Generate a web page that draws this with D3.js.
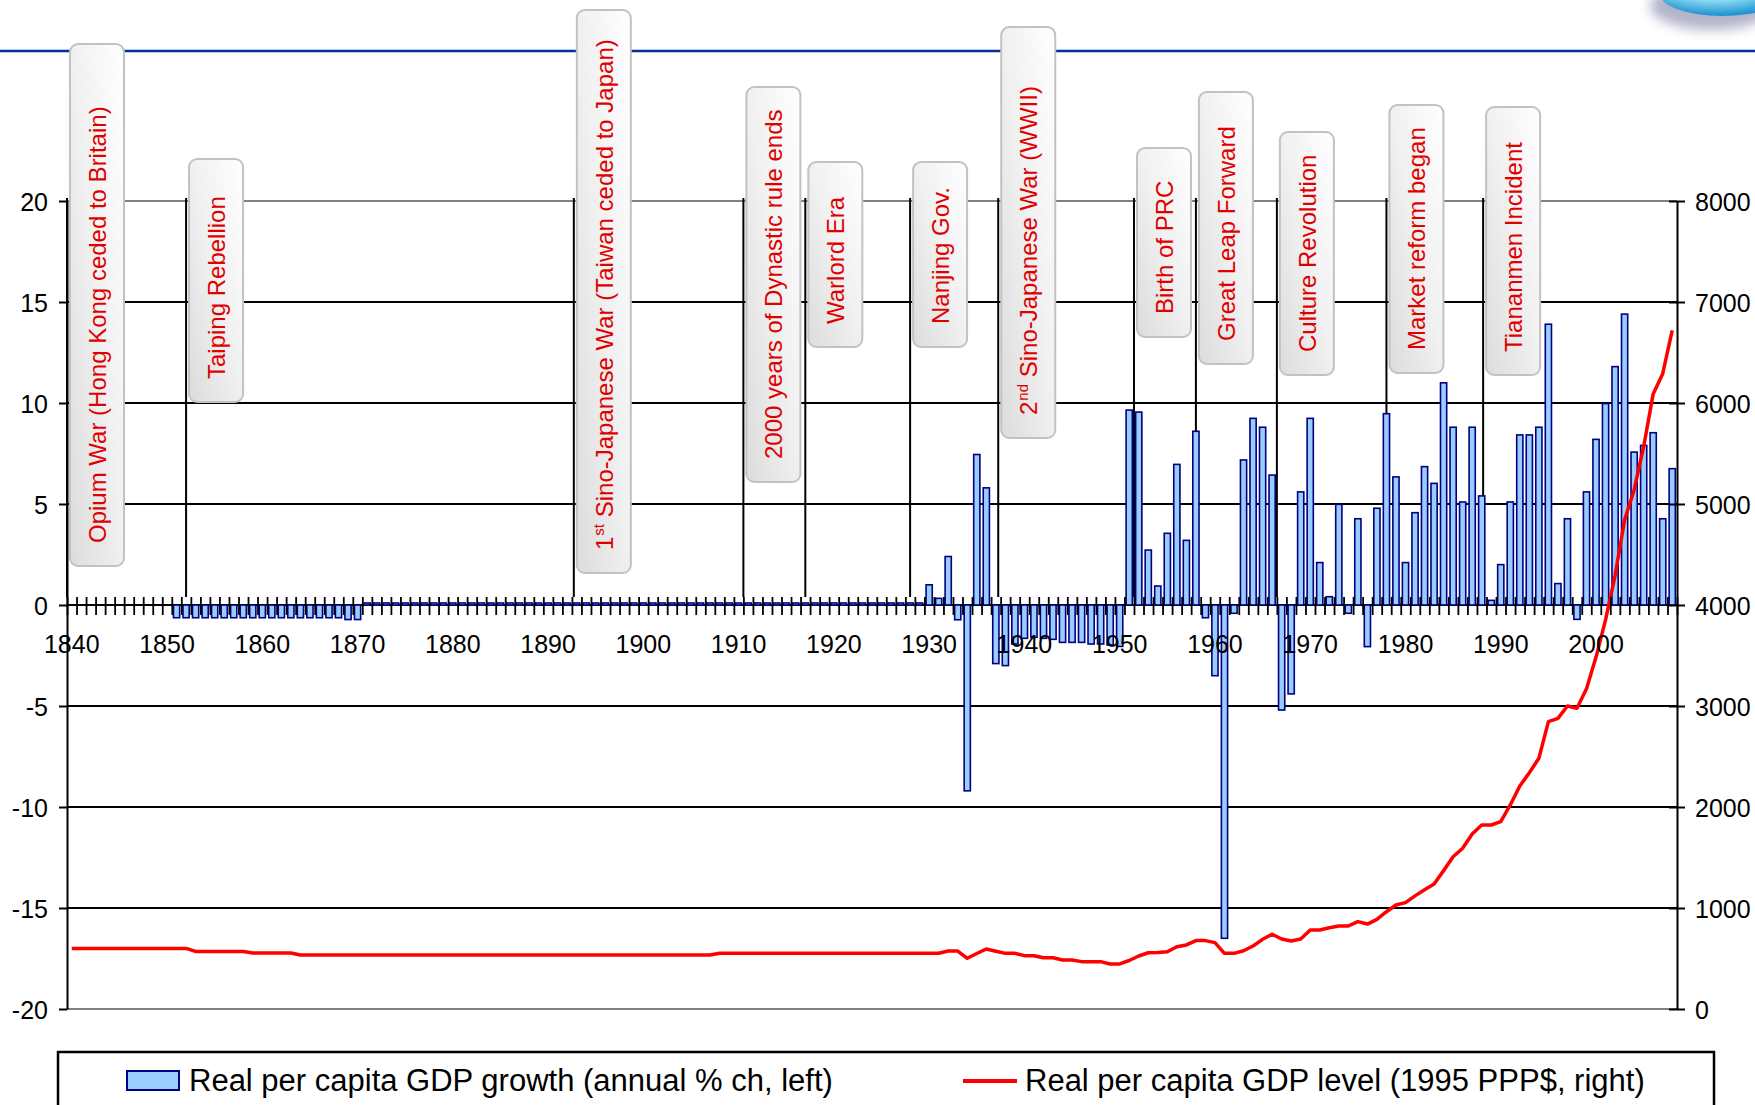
<!DOCTYPE html>
<html><head><meta charset="utf-8">
<script src="https://cdn.jsdelivr.net/npm/d3@7"></script>
<style>
html,body{margin:0;padding:0;background:#fff;}
svg{display:block;font-family:"Liberation Sans",Arial,Helvetica,sans-serif;}
</style></head><body>
<svg id="chart" width="1755" height="1105"></svg>
<script>
// ---------------- DATA ----------------
const years = d3.range(1840, 2009); // categories 1840..2008

// Real per capita GDP growth (annual % ch, left axis)
const growth = [
  // 1840-1849
  0,0,0,0,0,0,0,0,0,0,
  // 1850-1859
  0,-0.63,-0.63,-0.63,-0.63,-0.63,-0.63,-0.63,-0.63,-0.63,
  // 1860-1869
  -0.63,-0.63,-0.63,-0.63,-0.63,-0.63,-0.63,-0.63,-0.63,-0.72,
  // 1870-1879
  -0.72,0.1,0.1,0.1,0.1,0.1,0.1,0.1,0.1,0.1,
  // 1880-1889
  0.1,0.1,0.1,0.1,0.1,0.1,0.1,0.1,0.1,0.1,
  // 1890-1899
  0.1,0.1,0.1,0.1,0.1,0.1,0.1,0.1,0.1,0.1,
  // 1900-1909
  0.1,0.1,0.1,0.1,0.1,0.1,0.1,0.1,0.1,0.1,
  // 1910-1919
  0.1,0.1,0.1,0.1,0.1,0.1,0.1,0.1,0.1,0.1,
  // 1920-1929
  0.1,0.1,0.1,0.1,0.1,0.1,0.1,0.1,0.1,0.1,
  // 1930-1939
  1.0,0.33,2.4,-0.73,-9.2,7.45,5.8,-2.9,-3.0,-1.93,
  // 1940-1949
  -1.65,-1.6,-1.65,-1.7,-1.85,-1.85,-1.85,-1.93,-1.93,-1.98,
  // 1950-1959
  -2.05,9.65,9.55,2.72,0.94,3.55,6.96,3.2,8.6,-0.63,
  // 1960-1969
  -3.5,-16.5,-0.41,7.18,9.24,8.8,6.43,-5.2,-4.4,5.6,
  // 1970-1979
  9.24,2.1,0.41,4.98,-0.41,4.27,-2.06,4.79,9.47,6.34,
  // 1980-1989
  2.1,4.57,6.85,6.02,11.0,8.8,5.1,8.8,5.4,0.23,
  // 1990-1999
  2.0,5.1,8.42,8.42,8.8,13.9,1.06,4.27,-0.71,5.6,
  // 2000-2008
  8.2,9.97,11.8,14.4,7.57,7.9,8.53,4.27,6.75
];

// Real per capita GDP level (1995 PPP$, right axis)
const level = [
  // 1840-1849
  600,600,600,600,600,600,600,600,600,600,
  // 1850-1859
  600,600,600,570,570,570,570,570,570,555,
  // 1860-1869
  555,555,555,555,535,535,535,535,535,535,
  // 1870-1879
  535,535,535,535,535,535,535,535,535,535,
  // 1880-1889
  535,535,535,535,535,535,535,535,535,535,
  // 1890-1899
  535,535,535,535,535,535,535,535,535,535,
  // 1900-1909
  535,535,535,535,535,535,535,535,552,552,
  // 1910-1919
  552,552,552,552,552,552,552,552,552,552,
  // 1920-1929
  552,552,552,552,552,552,552,552,552,552,
  // 1930-1939
  552,552,574,574,502,549,594,572,551,551,
  // 1940-1949
  528,528,508,508,485,485,469,469,469,446,
  // 1950-1959
  446,480,525,557,560,567,617,634,677,677,
  // 1960-1969
  657,551,551,577,624,690,740,693,673,693,
  // 1970-1979
  782,782,805,822,822,865,841,888,963,1030,
  // 1980-1989
  1053,1120,1180,1238,1370,1508,1591,1733,1822,1822,
  // 1990-1999
  1855,2020,2208,2340,2482,2845,2878,3000,2977,3170,
  // 2000-2008
  3484,3853,4292,4842,5139,5567,6090,6290,6720
];

const leftTicks  = [-20,-15,-10,-5,0,5,10,15,20];
const rightTicks = [0,1000,2000,3000,4000,5000,6000,7000,8000];
const yearLabels = [1840,1850,1860,1870,1880,1890,1900,1910,1920,1930,1940,1950,1960,1970,1980,1990,2000];

// Historical events (position on the year axis) and their labels
const eventYears = [1840, 1852.5, 1893.2, 1911, 1917.5, 1928.5, 1937.75, 1952, 1958.5, 1967, 1978.5, 1988.65];
// parts: even index = normal text, odd index = superscript
const eventLabels = [
  ["Opium War (Hong Kong ceded to Britain)"],
  ["Taiping Rebellion"],
  ["1","st"," Sino-Japanese War (Taiwan ceded to Japan)"],
  ["2000 years of Dynastic rule ends"],
  ["Warlord Era"],
  ["Nanjing Gov."],
  ["2","nd"," Sino-Japanese War (WWII)"],
  ["Birth of PRC"],
  ["Great Leap Forward"],
  ["Culture Revolution"],
  ["Market reform began"],
  ["Tiananmen Incident"]
];

const seriesNames = ["Real per capita GDP growth (annual % ch, left)", "Real per capita GDP level (1995 PPP$, right)"];

// ---------------- LAYOUT (pixels) ----------------
const plot = {left: 67, right: 1677, top: 201, bottom: 1009};
const boxTops    = [44, 159, 10, 87, 162, 162, 27, 148, 92, 132, 105, 107];
const boxBottoms = [566, 402, 573, 482, 347, 347, 438, 337, 364, 375, 373, 375];
const boxW = 54;
const plainFmt = d => String(d);

const svg = d3.select("#chart");

// defs
const defs = svg.append("defs");
const bg = defs.append("linearGradient").attr("id","boxGrad")
  .attr("x1","1").attr("y1","0").attr("x2","0").attr("y2","1");
bg.append("stop").attr("offset","0").attr("stop-color","#ffffff");
bg.append("stop").attr("offset","0.5").attr("stop-color","#f0f0f0");
bg.append("stop").attr("offset","1").attr("stop-color","#dcdcdc");

const lg = defs.append("radialGradient").attr("id","logoGrad")
  .attr("cx","0.45").attr("cy","0.3").attr("r","0.7");
lg.append("stop").attr("offset","0").attr("stop-color","#e8fbff");
lg.append("stop").attr("offset","0.55").attr("stop-color","#7fd4f0");
lg.append("stop").attr("offset","1").attr("stop-color","#1a8fd0");
const blur = defs.append("filter").attr("id","blur").attr("x","-50%").attr("y","-50%").attr("width","200%").attr("height","200%");
blur.append("feGaussianBlur").attr("stdDeviation","6");

// logo fragment (top right) + header rule
svg.append("ellipse").attr("cx",1712).attr("cy",6).attr("rx",62).attr("ry",24)
  .attr("fill","#5a5a8a").attr("opacity",0.45).attr("filter","url(#blur)");
svg.append("ellipse").attr("cx",1722).attr("cy",-6).attr("rx",62).attr("ry",22)
  .attr("fill","url(#logoGrad)");
svg.append("line").attr("x1",0).attr("x2",1755).attr("y1",51).attr("y2",51)
  .attr("stroke","#003399").attr("stroke-width",2.5);

// ---------------- SCALES ----------------
const xBand = d3.scaleBand().domain(years).range([plot.left, plot.right])
  .paddingInner(0.35).paddingOuter(0.175);
const xYear = d3.scaleLinear().domain([1840, 2009]).range([plot.left, plot.right]);
const yL = d3.scaleLinear().domain([-20, 20]).range([plot.bottom, plot.top]);
const yR = d3.scaleLinear().domain([0, 8000]).range([plot.bottom, plot.top]);

// gridlines
svg.append("g").selectAll("line").data(leftTicks).join("line")
  .attr("x1", plot.left).attr("x2", plot.right)
  .attr("y1", d => yL(d)).attr("y2", d => yL(d))
  .attr("stroke", d => (d === 20 || d === -20) ? "#808080" : "#000")
  .attr("stroke-width", 2);

// event vertical lines
svg.append("g").selectAll("line").data(eventYears).join("line")
  .attr("x1", d => xYear(d)).attr("x2", d => xYear(d))
  .attr("y1", 198).attr("y2", 597)
  .attr("stroke", "#000").attr("stroke-width", 2);

// bars
svg.append("g").selectAll("rect").data(years).join("rect")
  .attr("x", d => xBand(d))
  .attr("width", xBand.bandwidth())
  .attr("y", (d,i) => yL(Math.max(0, growth[i])))
  .attr("height", (d,i) => Math.abs(yL(growth[i]) - yL(0)))
  .attr("fill", "#99ccff").attr("stroke", "#000080").attr("stroke-width", 1.6);

// red level line
const line = d3.line()
  .x((d,i) => xBand(years[i]) + xBand.bandwidth()/2)
  .y(d => yR(d));
svg.append("path").datum(level).attr("d", line)
  .attr("fill","none").attr("stroke","#ff0000").attr("stroke-width",3.5)
  .attr("stroke-linejoin","round");

// year tick marks across zero line
const xTicks = svg.append("g").attr("transform", `translate(0,${yL(0)})`)
  .call(d3.axisBottom(xYear).tickValues(d3.range(1840, 2010)).tickSize(10).tickFormat(""));
xTicks.select(".domain").remove();
xTicks.selectAll(".tick line").attr("y1", -8).attr("stroke","#000").attr("stroke-width",1.8);

// year labels
const xLab = svg.append("g").attr("transform", `translate(0,${yL(0)})`)
  .call(d3.axisBottom(xBand).tickValues(yearLabels).tickSize(0).tickFormat(plainFmt));
xLab.select(".domain").remove();
xLab.selectAll("text").attr("y", 48).attr("dy", null)
  .attr("font-size", 25).attr("fill","#000").attr("font-family","Liberation Sans, Arial, sans-serif");

// left axis
const axL = svg.append("g").attr("transform", `translate(${plot.left},0)`)
  .call(d3.axisLeft(yL).tickValues(leftTicks).tickSize(8).tickSizeOuter(0).tickPadding(11).tickFormat(plainFmt));
axL.select(".domain").attr("stroke","#000").attr("stroke-width",2);
axL.selectAll(".tick line").attr("stroke","#000").attr("stroke-width",2);
axL.selectAll("text").attr("font-size",25).attr("fill","#000").attr("dy","0.36em")
  .attr("font-family","Liberation Sans, Arial, sans-serif");

// right axis
const axR = svg.append("g").attr("transform", `translate(${plot.right},0)`)
  .call(d3.axisRight(yR).tickValues(rightTicks).tickSize(8).tickSizeOuter(0).tickPadding(10).tickFormat(plainFmt));
axR.select(".domain").attr("stroke","#000").attr("stroke-width",2);
axR.selectAll(".tick line").attr("x1",-8).attr("stroke","#000").attr("stroke-width",2);
axR.selectAll("text").attr("font-size",25).attr("fill","#000").attr("dy","0.36em")
  .attr("font-family","Liberation Sans, Arial, sans-serif");

// event boxes + labels
const ev = svg.append("g").selectAll("g").data(eventYears).join("g");
ev.append("rect")
  .attr("x", d => xYear(d) + 3)
  .attr("y", (d,i) => boxTops[i])
  .attr("width", boxW)
  .attr("height", (d,i) => boxBottoms[i] - boxTops[i])
  .attr("rx", 8).attr("ry", 8)
  .attr("fill", "url(#boxGrad)").attr("stroke", "#c2c2c2").attr("stroke-width", 2);
ev.each(function(d, i) {
  const cx = xYear(d) + 3 + boxW/2 + 9;
  const t = d3.select(this).append("text")
    .attr("transform", `translate(${cx},${boxBottoms[i] - 23}) rotate(-90)`)
    .attr("font-size", 24).attr("fill", "#e00000");
  const parts = eventLabels[i];
  parts.forEach((p, k) => {
    const sp = t.append("tspan").text(p);
    if (k % 2 === 1) sp.attr("font-size", 15).attr("dy", -9).attr("dx", 1);
    else if (k > 0) sp.attr("dy", 9);
  });
});

// legend
const leg = svg.append("g");
leg.append("rect").attr("x",58).attr("y",1052).attr("width",1656).attr("height",90)
  .attr("fill","#fff").attr("stroke","#000").attr("stroke-width",2.5);
leg.append("rect").attr("x",127).attr("y",1071).attr("width",52).attr("height",19)
  .attr("fill","#99ccff").attr("stroke","#000080").attr("stroke-width",2);
leg.append("text").attr("x",189).attr("y",1091).attr("font-size",31).attr("fill","#000").text(seriesNames[0]);
leg.append("line").attr("x1",963).attr("x2",1017).attr("y1",1081).attr("y2",1081)
  .attr("stroke","#ff0000").attr("stroke-width",4);
leg.append("text").attr("x",1025).attr("y",1091).attr("font-size",31).attr("fill","#000").text(seriesNames[1]);
</script>
</body></html>
